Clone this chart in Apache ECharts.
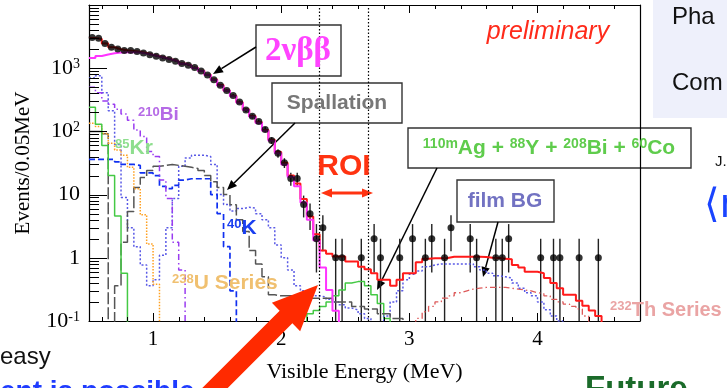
<!DOCTYPE html>
<html>
<head>
<meta charset="utf-8">
<script src="https://cdn.jsdelivr.net/npm/echarts@6/dist/echarts.min.js"></script>
<style>
html, body { margin: 0; padding: 0; background: #fff; }
#chart { width: 727px; height: 388px; }
</style>
</head>
<body>
<div id="chart"></div>
<script>
// binning of every histogram: 0.05 MeV bins starting at 0.5 MeV
const binStart = 0.5;
const binWidth = 0.05;

// observed events per bin (0 = empty bin)
const dataCounts = [
  3060, 2990, 2470, 2150, 2020, 1900, 1900, 1835, 1735, 1633,
  1540, 1450, 1370, 1290, 1186, 1117, 1029, 902, 783, 655,
  537, 444, 370, 292, 218, 173, 143, 107, 72, 45,
  32, 18, 18, 7, 5, 2, 3, 0, 1, 1,
  0, 0, 1, 0, 2, 1, 0, 0, 1, 0,
  2, 0, 1, 2, 0, 1, 3, 0, 0, 2,
  1, 0, 0, 1, 1, 2, 0, 0, 0, 0,
  1, 0, 1, 1, 0, 0, 1, 0, 0, 1
];

// best fit total (red)
const totalFit = [
  3000, 2900, 2450, 2150, 2000, 1920, 1880, 1820, 1740, 1640,
  1550, 1460, 1370, 1290, 1190, 1110, 1020, 910, 790, 660,
  540, 445, 365, 290, 222, 175, 140, 105, 74, 47,
  32, 20, 15, 8.5, 4.5, 2.36, 1.3, 1.16, 1.05, 1.05,
  0.87, 0.87, 0.72, 0.66, 0.57, 0.45, 0.45, 0.36, 0.45, 0.57,
  0.57, 0.85, 0.97, 0.98, 0.98, 0.99, 1.04, 1.04, 1.04, 1.04,
  1.04, 1.03, 1.0, 0.99, 0.97, 0.95, 0.77, 0.7, 0.6, 0.6,
  0.57, 0.48, 0.4, 0.33, 0.26, 0.26, 0.21, 0.175, 0.146, 0.12
];

// components, each with the index of its first bin
const twoNuBB = [
  1450, 1560, 1650, 1720, 1770, 1790, 1790, 1770, 1700, 1620,
  1530, 1450, 1360, 1280, 1180, 1100, 1010, 900, 780, 650,
  530, 440, 360, 285, 218, 170, 136, 102, 71, 45,
  30, 19, 13.5, 7.5, 4, 1.9, 0.7, 0.31, 0.145
];
const bi210 = [500, 408, 304, 270, 224, 188, 150, 105, 83, 48, 40, 17, 8.7, 1.76, 0.64];
const kr85 = [240, 130, 60, 20, 4.6, 0.57];
const u238 = [135, 120, 93, 65, 51, 42, 27, 12.4, 4.8, 1.65, 0.38];
const spallation = [
  100, 100, 92, null, 0.36, 1.76, 5.4, 13, 18.7, 24,
  28, 29, 30, 29, 28, 27, 26, 24, 20, 16,
  13, 10, 6.9, 4, 2.6, 1.3, 0.8, 0.5, 0.26, 0.25,
  0.25, 0.25, 0.25, 0.25, 0.23, 0.23, 0.23, 0.23, 0.2, 0.2,
  0.2, 0.17, 0.17, 0.155, 0.155, 0.13, 0.13, 0.11, 0.11
];
const k40 = [36, 36, 36, 36, 33, 30, 30, 29, 22, 22, 20, 13.5, 12.4, 14, 17, 17.8, 17.8, 17.8, 17.8, 10, 5, 1.5, 0.3];
const filmBG = [
  700, 760, 410, 213, 62, 9, 3, 1.5, 0.77, 0.36,
  0.45, 1.1, 3, 8.7, 28, 38, 42, 42, 40, 30,
  10, 7, 5.5, 6, 6.3, 6.1, 5, 4, 3, 1.6,
  1, 0.64, 0.36, 0.3, 0.28, 0.25, 0.24, 0.22, 0.2, 0.18,
  0.16, 0.15, 0.13, 0.11, null, null, 0.12, 0.2, 0.3, 0.45,
  0.55, 0.62, 0.72, 0.77, 0.8, 0.8, 0.8, 0.8, 0.8, 0.8,
  0.72, 0.64, 0.57, 0.52, 0.5, 0.48, 0.4, 0.33, 0.28, 0.25,
  0.2, 0.15, 0.12, 0.1
];
const ag110 = [0.13, 0.146, 0.17, 0.2, 0.25, 0.31, 0.4, 0.42, 0.42, 0.36, 0.26, 0.19, 0.11];
const ag110FirstBin = 34;
const th232 = [
  0.11, 0.14, 0.17, 0.2, 0.23, 0.25, 0.28, 0.3, 0.32, 0.33,
  0.34, 0.34, 0.34, 0.34, 0.33, 0.32, 0.31, 0.3, 0.28, 0.27,
  0.25, 0.22, 0.2, 0.185, 0.17, 0.155, 0.12
];
const th232FirstBin = 51;

// ROI (MeV)
const roiBounds = [2.3, 2.68];

// axis ticks
const xTickLabels = ['1', '2', '3', '4'];
const yTickLabels = { '-1': '10{s|-1}', '0': '1', '1': '10', '2': '10{s|2}', '3': '10{s|3}' };

const floorValue = 1e-3; // below the axis, clipped away

function stepPoints(values, firstBin) {
  firstBin = firstBin || 0;
  const pts = [];
  // histograms starting inside the frame rise from the axis
  if (firstBin > 0) pts.push([binStart + firstBin * binWidth, floorValue]);
  values.forEach((v, i) => {
    pts.push([binStart + (firstBin + i) * binWidth, v == null ? floorValue : v]);
  });
  const end = binStart + (firstBin + values.length) * binWidth;
  const last = values[values.length - 1];
  pts.push([end, last == null ? floorValue : last]);
  pts.push([end, floorValue]);
  return pts;
}

function histSeries(name, values, firstBin, color, width, dash) {
  return {
    name: name,
    type: 'line',
    step: 'end',
    data: stepPoints(values, firstBin),
    symbol: 'none',
    clip: true,
    lineStyle: { color: color, width: width, type: dash || 'solid' }
  };
}

const points = [];
dataCounts.forEach((n, i) => {
  if (n > 0) points.push([binStart + (i + 0.5) * binWidth, n]);
});

const tickData = [];
xTickLabels.forEach(t => tickData.push([Number(t), 1, 0]));
for (let k = 3; k <= 24; k++) {
  if (k % 5 !== 0) tickData.push([k * 0.2, 1, 1]);
}
for (let e = -1; e <= 3; e++) {
  tickData.push([1, Math.pow(10, e), 2]);
  for (let m = 2; m <= 9; m++) tickData.push([1, m * Math.pow(10, e), 3]);
}

function arrow(x1, y1, x2, y2, color, width, head) {
  const a = Math.atan2(y2 - y1, x2 - x1);
  const hw = head * 0.42;
  const bx = x2 - head * Math.cos(a), by = y2 - head * Math.sin(a);
  return [
    { type: 'line', shape: { x1: x1, y1: y1, x2: bx, y2: by }, style: { stroke: color, lineWidth: width } },
    { type: 'polygon', shape: { points: [[x2, y2], [bx + hw * Math.sin(a), by - hw * Math.cos(a)], [bx - hw * Math.sin(a), by + hw * Math.cos(a)]] }, style: { fill: color } }
  ];
}

function fatArrow(tx, ty, bx, by, tailLen, headHalf, shaftHalf, color) {
  const L = Math.hypot(tx - bx, ty - by);
  const dx = (tx - bx) / L, dy = (ty - by) / L;
  const nx = -dy, ny = dx;
  const ex = bx - tailLen * dx, ey = by - tailLen * dy;
  return {
    type: 'polygon',
    shape: { points: [
      [tx, ty],
      [bx + headHalf * nx, by + headHalf * ny],
      [bx + shaftHalf * nx, by + shaftHalf * ny],
      [ex + shaftHalf * nx, ey + shaftHalf * ny],
      [ex - shaftHalf * nx, ey - shaftHalf * ny],
      [bx - shaftHalf * nx, by - shaftHalf * ny],
      [bx - headHalf * nx, by - headHalf * ny]
    ] },
    style: { fill: color },
    z: 100
  };
}

function box(x, y, w, h) {
  return { type: 'rect', shape: { x: x, y: y, width: w, height: h }, style: { fill: 'none', stroke: '#333', lineWidth: 1.4 } };
}

function label(x, y, text, opts) {
  return {
    type: 'text', x: x, y: y, z: 50,
    style: Object.assign({ text: text, align: 'left', verticalAlign: 'middle' }, opts)
  };
}

function supLabel(x, y, sup, main, color, size, supSize) {
  return label(x, y, '{s|' + sup + '}{b|' + main + '}', {
    rich: {
      s: { fontSize: supSize, fontWeight: 'bold', fontFamily: 'Liberation Sans', fill: color, verticalAlign: 'top', lineHeight: size },
      b: { fontSize: size, fontWeight: 'bold', fontFamily: 'Liberation Sans', fill: color, lineHeight: size }
    }
  });
}

const chart = echarts.init(document.getElementById('chart'), null, { renderer: 'canvas' });

const serif = 'Liberation Serif';
const agRich = {
  s: { fontSize: 14, fontWeight: 'bold', fontFamily: 'Liberation Sans', fill: '#5fcc4c', verticalAlign: 'top', lineHeight: 21 },
  b: { fontSize: 21, fontWeight: 'bold', fontFamily: 'Liberation Sans', fill: '#5fcc4c', lineHeight: 21 }
};

const option = {
  animation: false,
  backgroundColor: '#fff',
  grid: { left: 89, top: 5, right: 87, bottom: 59, containLabel: false },
  xAxis: [{
    type: 'value', min: 0.5, max: 4.8, splitNumber: 8,
    name: 'Visible Energy (MeV)', nameLocation: 'middle', nameGap: 40,
    nameTextStyle: { fontFamily: serif, fontSize: 22, color: '#000' },
    axisLine: { show: true, lineStyle: { color: '#000', width: 1.2 } },
    axisTick: { show: false },
    splitLine: { show: false },
    axisLabel: {
      margin: 8, fontFamily: serif, fontSize: 21, color: '#000',
      formatter: v => xTickLabels.indexOf(String(v)) >= 0 ? String(v) : ''
    }
  }, {
    type: 'value', min: 0.5, max: 4.8, position: 'top',
    axisLine: { show: true, onZero: false, lineStyle: { color: '#000', width: 1.2 } },
    axisTick: { show: false }, axisLabel: { show: false }, splitLine: { show: false }
  }],
  yAxis: [{
    type: 'log', logBase: 10, min: 0.1, max: 10000,
    name: 'Events/0.05MeV', nameLocation: 'middle', nameGap: 55,
    nameTextStyle: { fontFamily: serif, fontSize: 21, color: '#000' },
    axisLine: { show: true, lineStyle: { color: '#000', width: 1.2 } },
    axisTick: { show: false },
    splitLine: { show: false },
    axisLabel: {
      margin: 9, color: '#000', fontFamily: serif, fontSize: 22,
      formatter: v => {
        const e = String(Math.round(Math.log10(v)));
        return yTickLabels[e] !== undefined ? yTickLabels[e] : '';
      },
      rich: {
        s: { fontFamily: serif, fontSize: 14, color: '#000', verticalAlign: 'top', lineHeight: 22 }
      }
    }
  }, {
    type: 'log', logBase: 10, min: 0.1, max: 10000, position: 'right',
    axisLine: { show: true, lineStyle: { color: '#000', width: 1.2 } },
    axisTick: { show: false }, axisLabel: { show: false }, splitLine: { show: false }
  }],
  series: [
    histSeries('232Th Series', th232, th232FirstBin, '#dd5a5a', 1.3, [6, 3, 1.5, 3]),
    histSeries('110mAg', ag110, ag110FirstBin, '#44c944', 1.5),
    histSeries('film BG', filmBG, 0, '#5a5ae6', 1.5, [2, 2]),
    histSeries('40K', k40, 0, '#1030f0', 1.7, [6, 3]),
    histSeries('Spallation', spallation, 0, '#555', 1.5, [12, 3]),
    histSeries('238U Series', u238, 0, '#ffa020', 1.5, [1.5, 1.5]),
    histSeries('85Kr', kr85, 0, '#44c944', 1.5),
    histSeries('210Bi', bi210, 0, '#9a3cf0', 1.5, [6, 3, 1.5, 3]),
    histSeries('Total', totalFit, 0, '#ff1a1a', 2),
    histSeries('2nbb', twoNuBB, 0, '#ff33ff', 2),
    {
      name: 'errors',
      type: 'custom',
      clip: true,
      data: points,
      renderItem: (params, api) => {
        const x = api.value(0), n = api.value(1);
        const err = Math.sqrt(n);
        const cs = params.coordSys;
        const top = api.coord([x, n + err]);
        const lowVal = n - err;
        const low = lowVal > 0 ? api.coord([x, lowVal])[1] : cs.y + cs.height;
        return {
          type: 'line',
          shape: { x1: top[0], y1: Math.max(top[1], cs.y), x2: top[0], y2: Math.min(low, cs.y + cs.height) },
          style: { stroke: '#222', lineWidth: 1.4 }
        };
      },
      z: 3
    },
    {
      name: 'data',
      type: 'scatter',
      data: points,
      symbol: 'circle',
      symbolSize: 7,
      itemStyle: { color: '#000' },
      z: 4,
      markLine: {
        silent: true, symbol: 'none',
        label: { show: false },
        lineStyle: { color: '#000', width: 1.2, type: [1.5, 2] },
        data: roiBounds.map(v => ({ xAxis: v }))
      }
    },
    {
      name: 'ticks',
      type: 'custom',
      data: tickData,
      silent: true,
      z: 5,
      renderItem: (params, api) => {
        const cs = params.coordSys;
        const kind = api.value(2);
        const st = { stroke: '#000', lineWidth: 1 };
        if (kind < 2) {
          const x = Math.round(api.coord([api.value(0), 1])[0]) + 0.5;
          const len = kind === 0 ? 8 : 4;
          return { type: 'group', children: [
            { type: 'line', shape: { x1: x, y1: cs.y + cs.height, x2: x, y2: cs.y + cs.height - len }, style: st },
            { type: 'line', shape: { x1: x, y1: cs.y, x2: x, y2: cs.y + len }, style: st }
          ] };
        }
        const y = Math.round(api.coord([1, api.value(1)])[1]) + 0.5;
        const len = kind === 2 ? 18 : 10;
        return { type: 'line', shape: { x1: cs.x, y1: y, x2: cs.x + len, y2: y }, style: st };
      }
    }
  ],
  graphic: { elements: [
    // slide background pieces
    { type: 'rect', shape: { x: 653, y: 0, width: 74, height: 118 }, style: { fill: '#eef0fb' }, z: 1 },
    label(672, 17, 'Pha', { font: '24px Liberation Sans', fill: '#111' }),
    label(672, 83, 'Com', { font: '24px Liberation Sans', fill: '#111' }),
    label(715, 162, 'J.', { font: '15px Liberation Sans', fill: '#111' }),
    label(704, 207, '\u27E8m', { font: '40px DejaVu Sans', fill: '#1a44ff' }),
    label(0, 357, 'easy', { font: '24px Liberation Sans', fill: '#111' }),
    label(0, 378, 'ent is possible', { font: 'bold 28px Liberation Sans', fill: '#1f3cff', verticalAlign: 'top' }),
    label(585, 373, 'Future', { font: 'bold 33px Liberation Sans', fill: '#1b6b2a', verticalAlign: 'top' }),

    // plot annotations
    label(548, 32, 'preliminary', { font: 'italic 25px Liberation Sans', fill: '#ff2a1a', align: 'center' }),
    box(256, 25, 85, 51),
    label(298, 51, '2\u03BD\u03B2\u03B2', { font: 'bold 33px Liberation Serif', fill: '#ff44ff', align: 'center' }),
    ...arrow(256, 47, 213, 74, '#000', 1.5, 10),
    box(272, 83, 130, 40),
    label(337, 103, 'Spallation', { font: 'bold 21px Liberation Sans', fill: '#777', align: 'center' }),
    ...arrow(295, 123, 227, 190, '#000', 1.5, 10),
    box(408, 128, 283, 40),
    label(549, 148, '{s|110m}{b|Ag + }{s|88}{b|Y + }{s|208}{b|Bi + }{s|60}{b|Co}', { align: 'center', rich: agRich }),
    ...arrow(437, 168, 377, 290, '#000', 1.5, 10),
    box(457, 180, 97, 42),
    label(505, 201, 'film BG', { font: 'bold 21px Liberation Sans', fill: '#7272c2', align: 'center' }),
    ...arrow(498, 222, 483, 277, '#000', 1.5, 10),
    label(344, 167, 'ROI', { font: 'bold 30px Liberation Sans', fill: '#ff3311', align: 'center' }),
    ...arrow(346, 193, 321, 193, '#ff3311', 3, 11),
    ...arrow(346, 193, 373, 193, '#ff3311', 3, 11),
    supLabel(138, 115, '210', 'Bi', '#b56ae6', 19, 13),
    supLabel(115, 148, '85', 'Kr', '#8ede8e', 21, 13),
    supLabel(227, 228, '40', 'K', '#1a3ff0', 21, 13),
    supLabel(172, 283, '238', 'U Series', '#f0c070', 21, 13),
    supLabel(610, 310, '232', 'Th Series', '#eaa4a4', 20, 13),
    fatArrow(318, 285, 286, 317, 110, 20, 9, '#ff2a00')
  ] }
};

chart.setOption(option);
</script>
</body>
</html>
